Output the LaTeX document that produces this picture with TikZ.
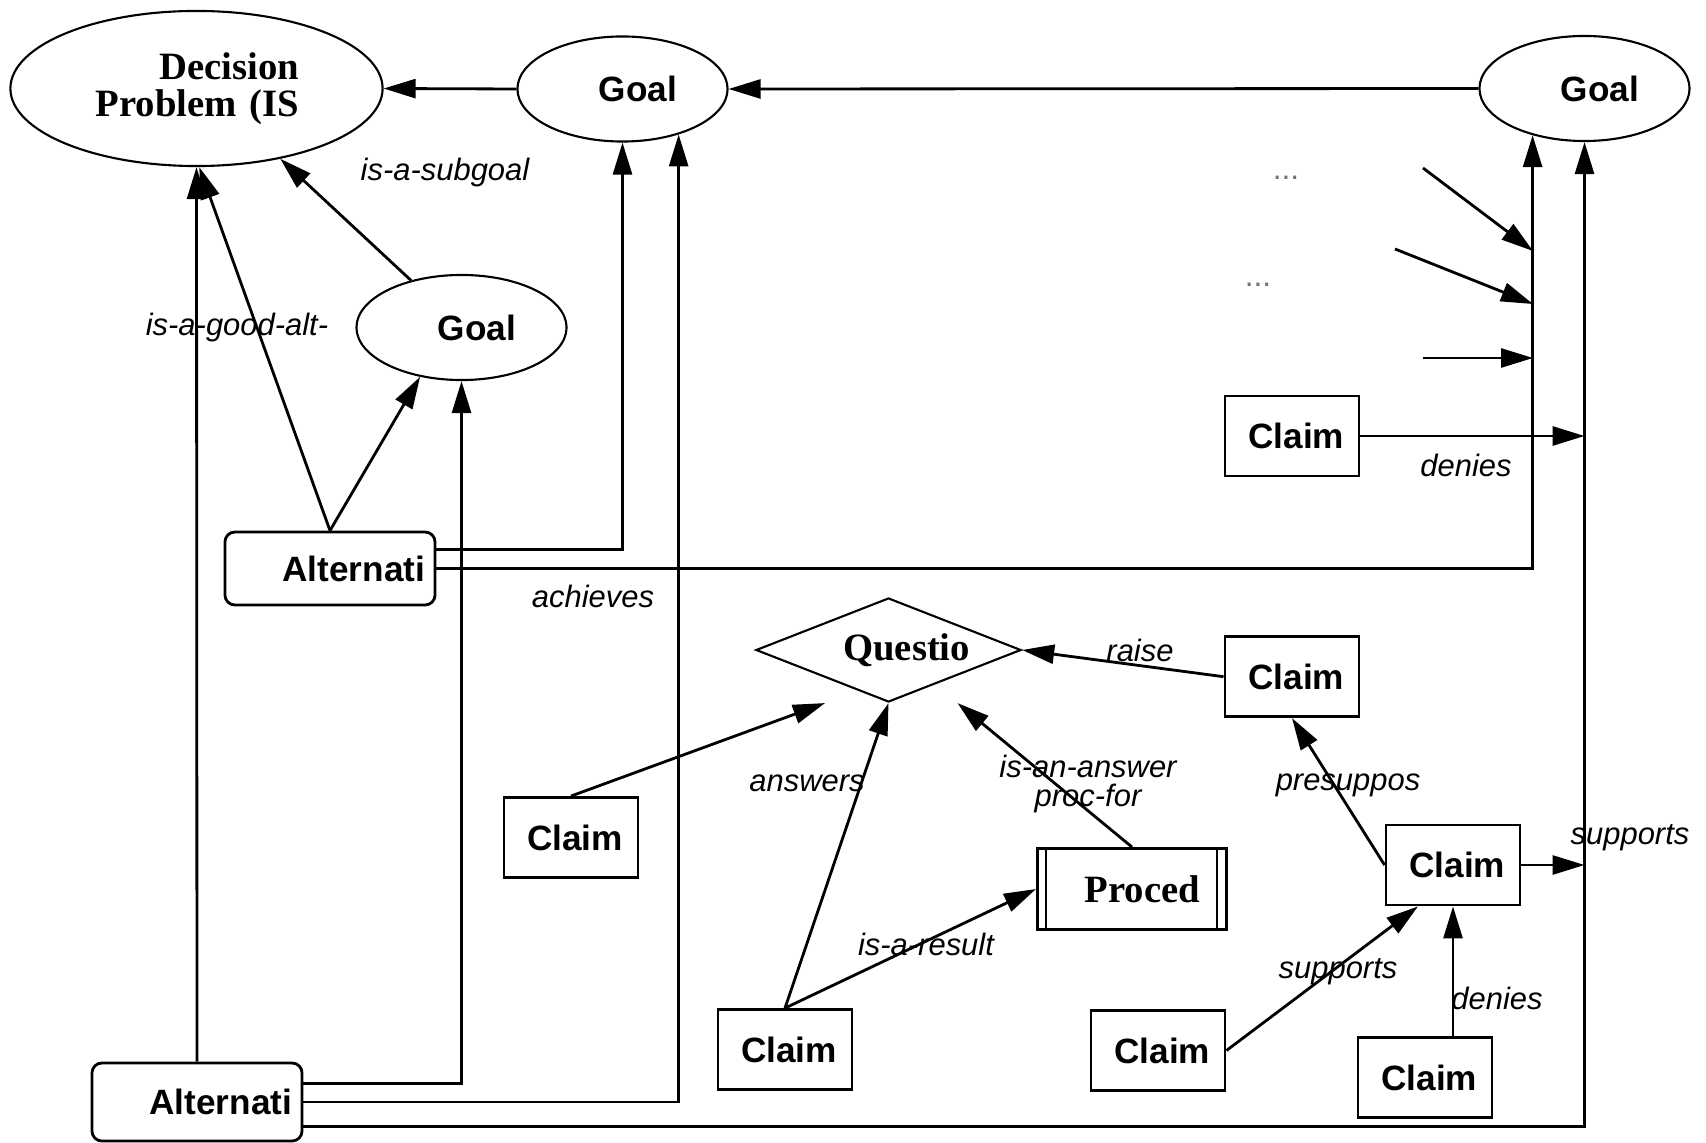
\documentclass[tikz,border=0pt]{standalone}
\usepackage{fontspec}
\setmainfont{Liberation Serif}
\setsansfont{Liberation Sans}
\usetikzlibrary{shapes.geometric,arrows.meta}

\begin{document}
\begin{tikzpicture}[
    x=0.01cm, y=-0.01cm, % 1 unit = 1 pixel of the reference
    line width=0.8pt,
    arr/.style={-{Triangle[length=3.2mm,width=1.9mm]}},
    lbl/.style={font=\sffamily\itshape\fontsize{8.8}{8.5}\selectfont, inner sep=0pt, align=center},
    dotsnode/.style={font=\sffamily\fontsize{9}{10}\selectfont, text=black!55, inner sep=0pt},
    sansbf/.style={font=\sffamily\bfseries\fontsize{10}{12}\selectfont},
    serifbf/.style={font=\rmfamily\bfseries\fontsize{11}{10.5}\selectfont},
    problem/.style={ellipse, draw, line width=0.6pt, serifbf, minimum width=37.2mm, minimum height=15.5mm,
        inner sep=0pt, text width=20.5mm, align=right},
    goal/.style={ellipse, draw, line width=0.6pt, sansbf, minimum width=21mm, minimum height=10.5mm,
        inner sep=0pt, text width=10.9mm, align=right},
    alt/.style={rectangle, rounded corners=1mm, draw, sansbf, minimum width=21mm, minimum height=7.3mm,
        inner xsep=1mm, text width=19mm, align=right},
    claim/.style={rectangle, draw, sansbf, minimum width=13.4mm, minimum height=8mm,
        inner xsep=1.5mm, text width=10.4mm, align=right},
    question/.style={diamond, aspect=2.55, draw, line width=0.6pt, serifbf, minimum width=26.5mm,
        minimum height=10.4mm, inner sep=0pt, text width=16.3mm, align=right},
    procbox/.style={rectangle, draw, serifbf, minimum width=18.9mm, minimum height=8.1mm,
        inner xsep=2.65mm, text width=13.6mm, align=right},
]
\useasboundingbox (0,0) rectangle (1706,1143);

% problem and goals
\node[problem] (dp) at (196.5,88.5) {Decision\\Problem (IS};
\node[goal] (g1) at (622.5,89) {Goal};
\node[goal] (g2) at (1584.5,88.5) {Goal};
\node[goal] (g3) at (461.5,327.5) {Goal};

% alternatives
\node[alt] (alt1) at (330,568.5) {Alternati};
\node[alt, minimum height=7.8mm] (alt2) at (197,1102) {Alternati};

% claims
\node[claim] (c1) at (1292,436) {Claim};
\node[claim] (c2) at (1292,676.7) {Claim};
\node[claim] (c3) at (571,837.5) {Claim};
\node[claim] (c4) at (785,1049.5) {Claim};
\node[claim] (c5) at (1453,865) {Claim};
\node[claim] (c6) at (1158,1050.5) {Claim};
\node[claim] (c7) at (1425,1077.5) {Claim};

\node[question] (q) at (888.5,650) {Questio};
\node[procbox] (proc) at (1132,889) {Proced};
\draw ([xshift=1mm]proc.north west) -- ([xshift=1mm]proc.south west);
\draw ([xshift=-1.1mm]proc.north east) -- ([xshift=-1.1mm]proc.south east);

% loose ends on the right
\node[dotsnode] (dots1) at (1286,178) {...};
\node[dotsnode] (dots2) at (1258,285) {...};
\coordinate (in1) at (1423,168);
\coordinate (on1) at (1533,251);
\coordinate (in2) at (1395,249);
\coordinate (on2) at (1533,304);
\coordinate (in3) at (1423,358);
\coordinate (on3) at (1533,358);

% connectors
\draw[arr] (g1.west) -- (dp.east);
\draw[arr] (g2.west) -- (g1.east);
\draw[arr] (g3.137) -- (dp.-40);
\draw[arr] (alt1.north) -- (dp.-88);
\draw[arr] (alt1.north) -- (g3.-130);
\draw[arr] (alt2.north) -- (dp.south);
\draw[arr] (alt1.10) -| (g1.south);
\draw[arr] (alt1.east) -| (g2.-138);
\draw[arr] (alt2.10) -| (g3.south);
\draw[arr] (alt2.east) -| (g1.-39);
\draw[arr] (alt2.-13) -| (g2.south);
\foreach \i in {1,2,3}
    \draw[arr] (in\i) -- (on\i);
\draw[arr] (c1.east) -- (c1.east -| g2.south);
\draw[arr] (c2.west) -- (q.east);
\draw[arr] (c3.north) -- ([xshift=-6.35mm]q.south);
\draw[arr] (c4.north) -- (q.south);
\draw[arr] (c4.north) -- (proc.west);
\draw[arr] (proc.north) -- ([xshift=6.9mm]q.south);
\draw[arr] (c5.west) -- (c2.south);
\draw[arr] (c5.east) -- (c5.east -| g2.south);
\draw[arr] (c6.east) -- ([xshift=-3.5mm]c5.south);
\draw[arr] (c5.south |- c7.north) -- (c5.south);

% labels
\node[lbl] (l-subgoal) at (445,173) {is-a-subgoal};
\node[lbl] (l-goodalt) at (237,328) {is-a-good-alt-};
\node[lbl] (l-achieves) at (593,596) {achieves};
\node[lbl] (l-denies1) at (1466,465) {denies};
\node[lbl] (l-raise) at (1140,650) {raise};
\node[lbl] (l-answers) at (807,783) {answers};
\node[lbl] (l-procfor) at (1088,784) {is-an-answer\\proc-for};
\node[lbl] (l-result) at (926,944) {is-a-result};
\node[lbl] (l-presup) at (1348,785) {presuppos};
\node[lbl] (l-supports1) at (1630,838) {supports};
\node[lbl] (l-supports2) at (1338,972) {supports};
\node[lbl] (l-denies2) at (1497,998) {denies};
\end{tikzpicture}
\end{document}
